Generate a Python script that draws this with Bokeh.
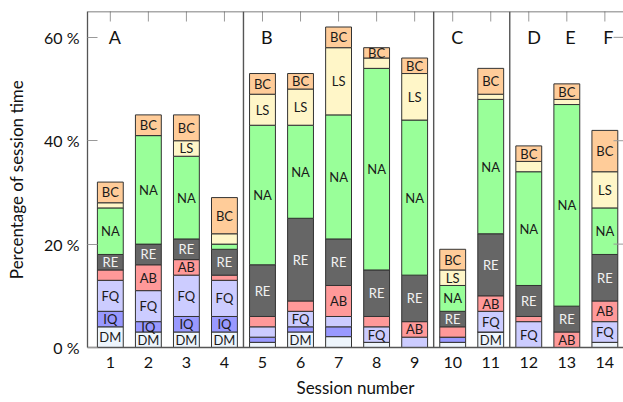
import numpy as np
from bokeh.plotting import figure
from bokeh.models import (ColumnDataSource, LinearAxis, FixedTicker, Range1d, Span)
from bokeh.core.properties import value
from bokeh.embed import file_html
from bokeh.resources import INLINE

# ---- data (percentage of session time) ----
sessions = [1, 2, 3, 4, 5, 6, 7, 8, 9, 10, 11, 12, 13, 14]
categories = ["DM", "IQ", "FQ", "AB", "RE", "NA", "LS", "BC"]
DM = [4, 3, 3, 3, 1, 3, 2.1, 1, 0, 1, 3, 0, 0, 1]
IQ = [3, 2, 3, 3, 1, 1, 1.9, 0, 0, 1, 0, 0, 0, 0]
FQ = [6, 6, 8, 7, 2, 3, 2, 3, 2, 0, 4, 5, 0, 4]
AB = [2, 5, 3, 1, 2, 2, 6, 2, 3, 2, 3, 1, 3, 4]
RE = [3, 4, 4, 5, 10, 16, 9, 9, 9, 3, 12, 6, 5, 9]
NA = [9, 21, 16, 1, 27, 18, 24, 39, 30, 5, 26, 22, 39, 9]
LS = [1, 0, 3, 2, 6, 7, 13, 2, 9, 3, 1, 2, 1, 7]
BC = [4, 4, 5, 7, 4, 3, 4, 2, 3, 4, 5, 3, 3, 8]
group_names = ["A", "B", "C", "D", "E", "F"]
group_first_session = [1, 5, 10, 12, 13, 14]
group_separators = [4.5, 9.5, 11.5]
y_ticks = [0, 20, 40, 60]
y_tick_labels = ["0 %", "20 %", "40 %", "60 %"]

# ---- style ----
colors = {"DM": "#eef5fc", "IQ": "#9999ff", "FQ": "#ccccff", "AB": "#ff9999",
          "RE": "#666666", "NA": "#99ff99", "LS": "#fff6c8", "BC": "#ffcc99"}
label_min = {"DM": 3, "IQ": 2, "FQ": 3, "AB": 3, "RE": 3, "NA": 3, "LS": 3, "BC": 2}
FONT = "Lato"
FRAME = "#555555"
TICK = "#999999"
X0, X1, Y0, Y1 = 0.4, 14.49, 0, 65

series = {"DM": DM, "IQ": IQ, "FQ": FQ, "AB": AB, "RE": RE, "NA": NA, "LS": LS, "BC": BC}
data = {"x": sessions}
data.update(series)
source = ColumnDataSource(data)

p = figure(width=623, height=400, x_range=Range1d(X0, X1), y_range=Range1d(Y0, Y1),
           x_axis_type=None, y_axis_type=None, output_backend="svg", toolbar_location=None,
           min_border_left=87, min_border_right=0, min_border_top=11, min_border_bottom=53)
p.outline_line_color = None
p.background_fill_color = "white"
p.border_fill_color = "white"

p.vbar_stack(categories, x="x", width=0.68, source=source,
             fill_color=[colors[c] for c in categories],
             line_color="#333333", line_width=1)

# segment labels
lx, ly, lt, lc = [], [], [], []
bottom = np.zeros(len(sessions))
for c in categories:
    vals = np.array(series[c], dtype=float)
    for i, v in enumerate(vals):
        if v >= label_min[c]:
            lx.append(sessions[i])
            ly.append(bottom[i] + v / 2.0)
            lt.append(c)
            lc.append("#f2f2f2" if c == "RE" else "#1a1a1a")
    bottom += vals
lsrc = ColumnDataSource(dict(x=lx, y=ly, t=lt, c=lc))
p.text(x="x", y="y", text="t", text_color="c", source=lsrc, text_align="center",
       text_baseline="middle", text_font=value(FONT), text_font_size="13px")

# group labels
gsrc = ColumnDataSource(dict(x=[g - 0.04 for g in group_first_session],
                             y=[60] * len(group_names), t=group_names))
p.text(x="x", y="y", text="t", source=gsrc, text_align="left", text_baseline="middle",
       text_font=value(FONT), text_font_size="18px", text_color="#111111")

for s in group_separators:
    p.add_layout(Span(location=s, dimension="height", line_color=FRAME, line_width=1.4))

# top border and inward ticks on top / right sides (clipped to the frame)
p.add_layout(Span(location=Y1, dimension="width", line_color=FRAME, line_width=1.3))
p.scatter(x=sessions, y=[Y1] * len(sessions), marker="dash", angle=np.pi / 2,
          size=20, line_color=TICK, line_width=1)
p.scatter(x=[X1] * len(y_ticks), y=y_ticks, marker="dash", size=20,
          line_color=TICK, line_width=1)

# axes
left = LinearAxis(ticker=FixedTicker(ticks=y_ticks),
                  major_label_overrides={t: l for t, l in zip(y_ticks, y_tick_labels)},
                  axis_label="Percentage of session time")
bottom_ax = LinearAxis(ticker=FixedTicker(ticks=sessions), axis_label="Session number")

for ax in (left, bottom_ax):
    ax.axis_line_color = FRAME
    ax.axis_line_width = 1.3
    ax.major_tick_line_color = TICK
    ax.major_tick_line_width = 1
    ax.major_tick_in = 10
    ax.major_tick_out = 0
    ax.minor_tick_line_color = None
    ax.major_label_text_font = FONT
    ax.major_label_text_font_size = "16px"
    ax.major_label_text_color = "#111111"
    ax.axis_label_text_font = FONT
    ax.axis_label_text_font_size = "17px"
    ax.axis_label_text_font_style = "normal"
    ax.axis_label_text_color = "#111111"

left.major_label_standoff = 8
left.axis_label_standoff = 14
bottom_ax.major_tick_in = 0
bottom_ax.major_label_standoff = 9
bottom_ax.axis_label_standoff = 6

p.add_layout(left, "left")
p.add_layout(bottom_ax, "below")

open("out.html", "w").write(file_html(p, INLINE))
